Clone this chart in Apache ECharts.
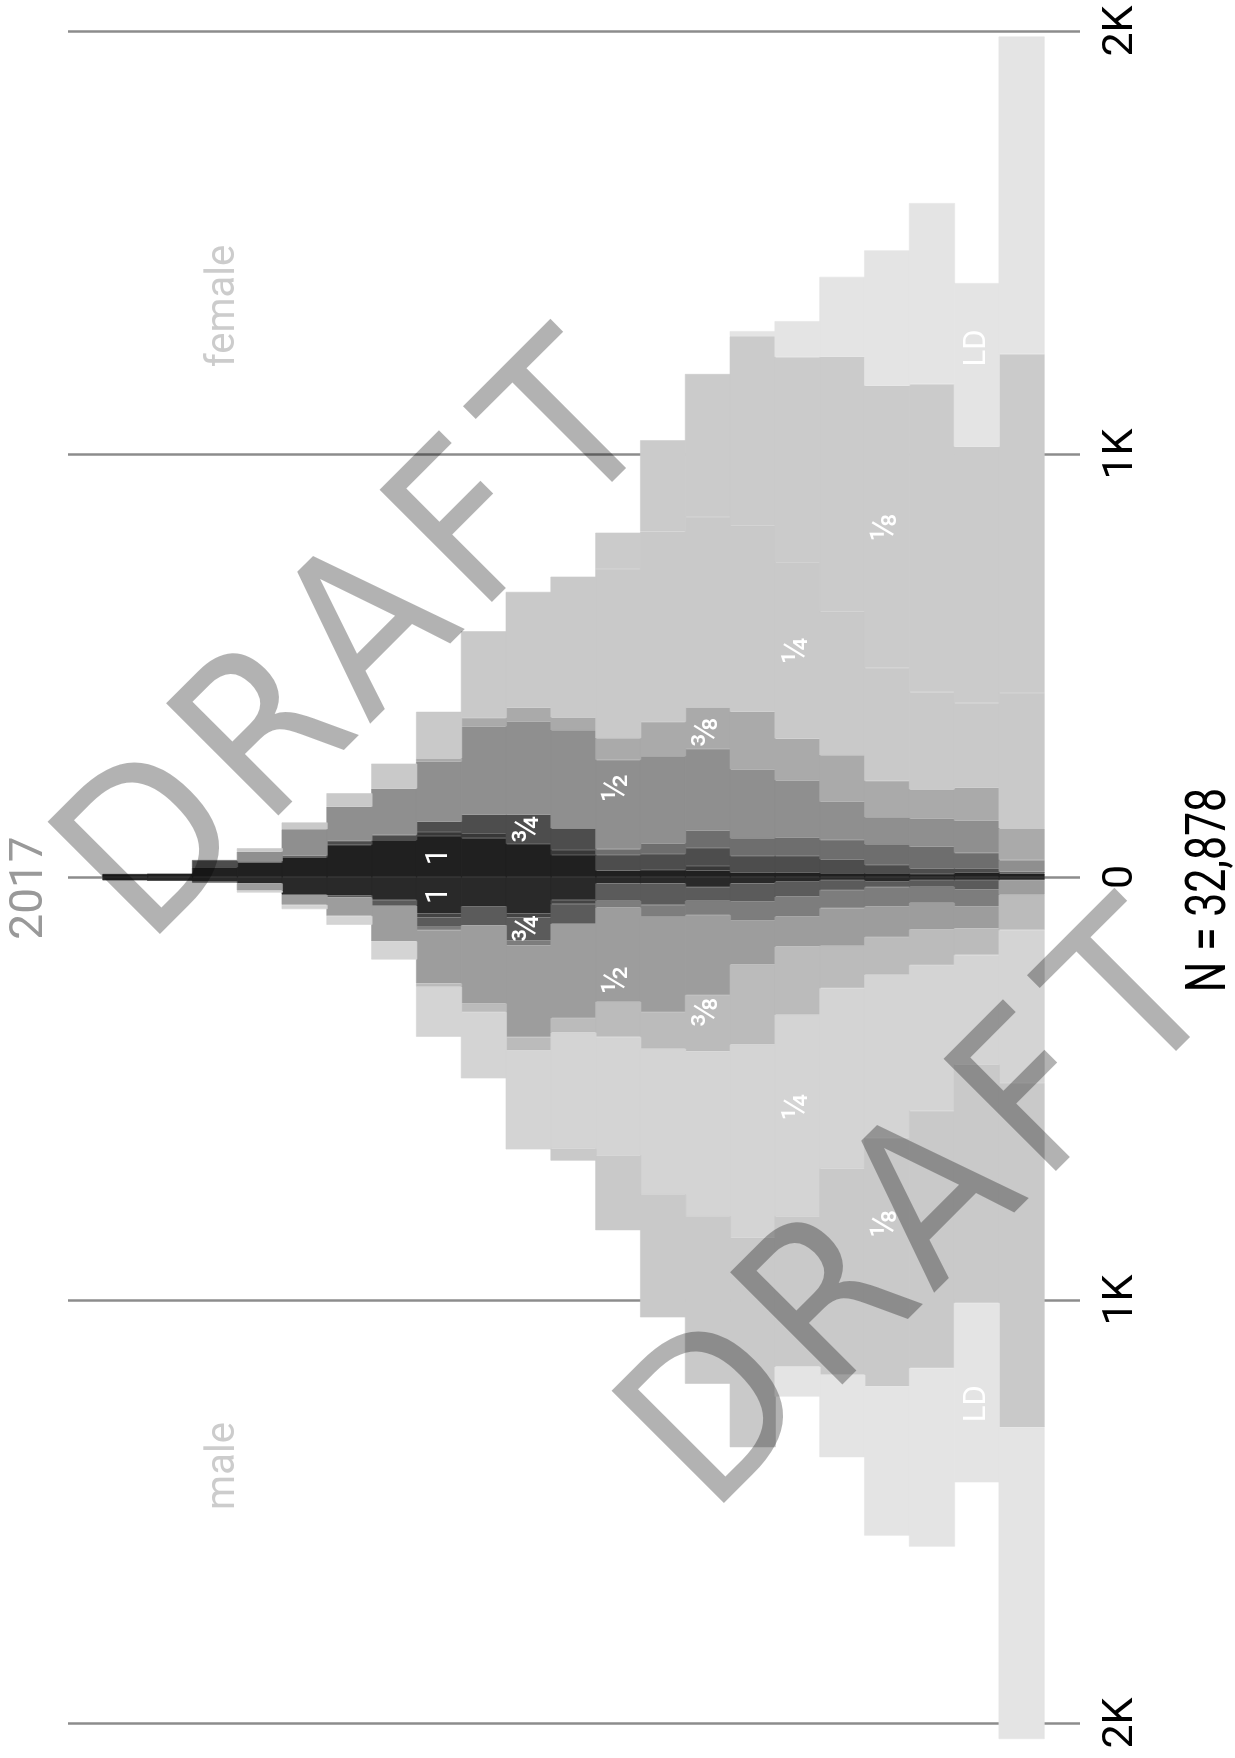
<!DOCTYPE html>
<html><head><meta charset="utf-8">
<script src="https://cdn.jsdelivr.net/npm/echarts@6/dist/echarts.min.js"></script>
<style>html,body{margin:0;padding:0;background:#fff}#c{width:1235px;height:1758px}</style>
</head><body><div id="c"></div>
<script>
// ---- data (21 columns, left to right) ----
const categories = ['0','1','2','3','4','5','6','7','8','9','10','11','12','13','14','15','16','17','18','19','20'];
const tickValues = [-2000, -1000, 0, 1000, 2000];

const female_1   = [7,8,23,34,46,76,87,97,92,78,52,15,16.5,15,10,10,8.7,8.7,7,10,8];
const female_7_8 = [0,0,0,0,0,0,0,9.5,11,0,12,0,0,11,0,0,0,0,0,0,0];
const female_3_4 = [0,0,17,3,4,9,12,24,44,69,51,37,38,42.5,39.5,39.5,33,19.6,13.5,10,4];
const female_5_8 = [0,0,0,0,0,0,0,0,0,0,0,14,25,41,42,44,45.6,49,51,37,0];
const female_1_2 = [0,0,0,23,63,81,110,142,209,221,232,211,206,193,163,135,90.5,64,67,76,28];
const female_3_8 = [0,0,0,0,0,0,0,8,20,32,30,51,81,98.6,136,98.6,110,86,68.6,78,75];
const female_1_4 = [0,0,0,8,16,32,59,110,205,274,333,400,450,450,440,417,340,267,230,200,320];
const female_1_8 = [0,0,0,0,0,0,0,0,0,0,0,86,216,338,448,485,602,667,728,606,801];
const female_LD  = [0,0,0,0,0,0,0,0,0,0,0,0,0,0,12,85,189,320,428,387,751];

const male_1   = [8,9,11,15,42,43,54,86,69,86,54,15,15,24,15,11,7,11,7,7,7];
const male_7_8 = [0,0,0,0,0,0,0,9.5,0,9.5,9.5,0,0,0,0,0,0,0,0,0,0];
const male_3_4 = [0,0,2,0,0,5,14,22,45,54,47,41,51,32,43,35.5,23.6,13,16,22,0];
const male_5_8 = [0,0,0,0,0,0,0,8,0,12,0,16,28,34,45,47,43,46,38,41,0];
const male_1_2 = [0,0,0,17,24,44,84,126,185,217,223,223,225,189,104,71,89,72,63,51,35];
const male_3_8 = [0,0,0,0,0,0,0,8,20,31.5,34,83,87,133,189,161,100,89,84,63,83];
const male_1_4 = [0,0,0,5,10,21,43,118,157,234,275,280,344,390,456,477,427,386,345,260,362];
const male_1_8 = [0,0,0,0,0,0,0,0,0,0,28,177,291,396,496,355,487,587,608,563,814];
const male_LD  = [0,0,0,0,0,0,0,0,0,0,0,0,0,0,0,71,195,353,422,424,737];

const fractionNames = ['1','7/8','3/4','5/8','1/2','3/8','1/4','1/8','LD'];
const labelTexts = {'1':'1','3/4':'\u00BE','1/2':'\u00BD','3/8':'\u215C','1/4':'\u00BC','1/8':'\u215B','LD':'LD'};
const labelColumns = {'1':7,'3/4':9,'1/2':11,'3/8':13,'1/4':15,'1/8':17,'LD':19};
const totalN = '32,878';
const yearText = '2017';
const watermarkLetters = ['D','R','A','F','T'];

// ---- styles / layout ----
const femaleData = [female_1,female_7_8,female_3_4,female_5_8,female_1_2,female_3_8,female_1_4,female_1_8,female_LD];
const maleData   = [male_1,male_7_8,male_3_4,male_5_8,male_1_2,male_3_8,male_1_4,male_1_8,male_LD];
const femaleColors = ['#202020','#383838','#4d4d4d','#6e6e6e','#8f8f8f','#aaaaaa','#c9c9c9','#cbcbcb','#e4e4e4'];
const maleColors   = ['#292929','#444444','#5b5b5b','#7d7d7d','#9d9d9d','#bbbbbb','#d4d4d4','#c9c9c9','#e4e4e4'];
// vertical screen shift of in-bar labels (px); labels are rotated so offset is given in label frame
const labelShiftY = {
  female: {'1/2':-17, '3/8':4, 'LD':-17},
  male:   {'1/2':25, '3/8':-11, '1/4':-9, '1/8':-39, 'LD':11}
};

function makeSeries(name, values, sign, stack, color) {
  const dy = labelShiftY[stack][name] || 0;
  const isFrac = name !== '1' && name !== 'LD';
  return {
    type: 'bar', name: name, stack: stack,
    xAxisIndex: 1, yAxisIndex: 1,
    barWidth: 46, barGap: '-100%',
    clip: false, silent: true,
    itemStyle: { color: color, borderColor: color, borderWidth: 0.6 },
    emphasis: { disabled: true },
    label: { show: false, position: 'inside', rotate: 90, color: '#ffffff',
             fontSize: isFrac ? 36 : 31, fontFamily: 'Roboto, DejaVu Sans', offset: [-dy, 0] },
    data: values.map(function (v, i) {
      const item = { value: v === 0 ? null : sign * v };
      if (labelColumns[name] === i) {
        item.label = { show: true, formatter: labelTexts[name] };
      }
      return item;
    })
  };
}

const series = [];
fractionNames.forEach(function (n, k) { series.push(makeSeries(n, femaleData[k], 1, 'female', femaleColors[k])); });
fractionNames.forEach(function (n, k) { series.push(makeSeries(n, maleData[k], -1, 'male', maleColors[k])); });

// watermark letters placed along a 45 degree baseline
function watermark(sx, sy) {
  const along = [63, 223, 370, 513, 655];
  const c = Math.SQRT1_2, up = 51;
  return watermarkLetters.map(function (ch, i) {
    const s = along[i];
    return {
      type: 'text', z: 100, silent: true,
      x: sx + c * s - c * up, y: sy - c * s - c * up,
      rotation: Math.PI / 4, scaleX: 0.92,
      style: { text: ch, fontSize: 218, fontFamily: 'DejaVu Sans', fill: 'rgba(0,0,0,0.3)',
               textAlign: 'center', textVerticalAlign: 'middle' }
    };
  });
}

const chart = echarts.init(document.getElementById('c'), null, { renderer: 'canvas' });
chart.setOption({
  animation: false,
  backgroundColor: '#ffffff',
  grid: [
    { left: 68, right: 155, top: 31, bottom: 35 },
    { left: 103, right: 191, top: 31, bottom: 35 }
  ],
  xAxis: [
    { type: 'value', gridIndex: 0, show: false, min: 0, max: 1 },
    { type: 'category', gridIndex: 1, show: false, data: categories, boundaryGap: true }
  ],
  yAxis: [
    {
      type: 'value', gridIndex: 0, position: 'right',
      min: tickValues[0], max: tickValues[tickValues.length - 1], interval: 1000,
      axisLine: { show: false }, axisTick: { show: false },
      splitLine: { show: true, lineStyle: { color: '#8c8c8c', width: 2.5 } },
      axisLabel: {
        show: true, rotate: 90, margin: 20, fontSize: 43, fontFamily: 'Roboto', color: '#000000',
        showMinLabel: true, showMaxLabel: true,
        formatter: function (v) { return v === 0 ? '0' : (Math.abs(v) / 1000) + 'K'; }
      }
    },
    { type: 'value', gridIndex: 1, show: false, min: tickValues[0], max: tickValues[tickValues.length - 1] }
  ],
  series: series,
  graphic: [
    { type: 'text', x: 30, y: 888, rotation: Math.PI / 2, z: 50,
      style: { text: yearText, fontSize: 46, fontFamily: 'Roboto', fill: '#999999', textAlign: 'center', textVerticalAlign: 'middle' } },
    { type: 'text', x: 224, y: 306, rotation: Math.PI / 2, z: 50,
      style: { text: 'female', fontSize: 40, fontFamily: 'Roboto', fill: '#cccccc', textAlign: 'center', textVerticalAlign: 'middle' } },
    { type: 'text', x: 224, y: 1466, rotation: Math.PI / 2, z: 50,
      style: { text: 'male', fontSize: 40, fontFamily: 'Roboto', fill: '#cccccc', textAlign: 'center', textVerticalAlign: 'middle' } },
    { type: 'text', x: 1211, y: 890, rotation: Math.PI / 2, scaleX: 0.78, z: 50,
      style: { text: 'N = ' + totalN, fontSize: 55, fontFamily: 'Roboto', fill: '#000000', textAlign: 'center', textVerticalAlign: 'middle' } }
  ].concat(watermark(152, 934)).concat(watermark(716, 1503))
});
</script></body></html>
